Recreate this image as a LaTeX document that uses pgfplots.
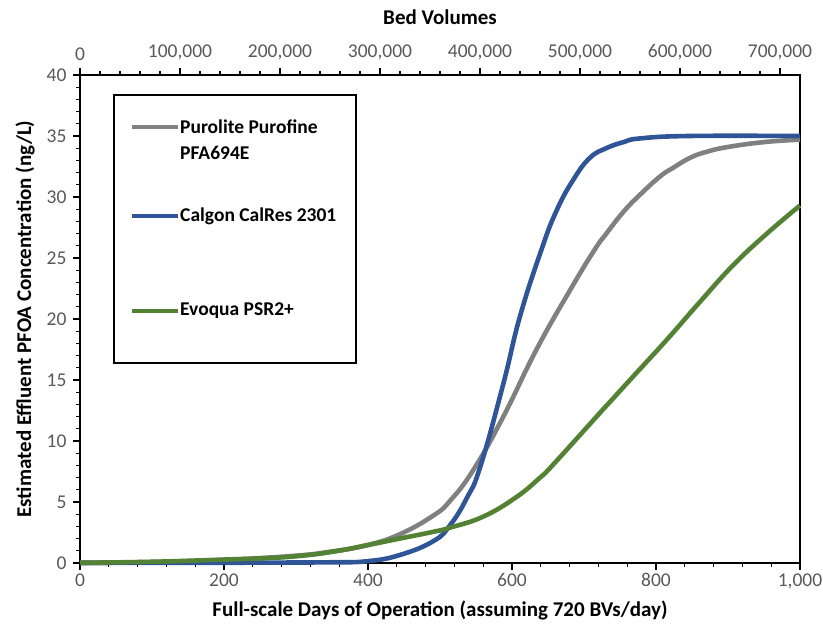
\documentclass[border=0pt]{standalone}
\usepackage{fontspec}
\setmainfont{Carlito}
\usepackage{pgfplots}
\pgfplotsset{compat=1.18}
\definecolor{cgray}{HTML}{808080}
\definecolor{cblue}{HTML}{2F5597}
\definecolor{cgreen}{HTML}{548235}
\definecolor{ctick}{HTML}{595959}
\begin{document}
\begin{tikzpicture}
\begin{axis}[
  scale only axis, width=720pt, height=488pt,
  xmin=0, xmax=1000, ymin=0, ymax=40,
  xtick={0,200,400,600,800,1000}, ytick={0,5,10,15,20,25,30,35,40},
  minor x tick num=4, minor y tick num=4,
  xtick pos=bottom, ytick pos=left,
  tick align=outside,
  major tick length=7pt, minor tick length=4pt,
  every tick/.style={black, line width=1.3pt},
  axis line style={line width=1.6pt},
  tick label style={font=\fontsize{19.5}{22}\selectfont, color=ctick},
  yticklabel style={xshift=-3pt},
  /pgf/number format/assume math mode=true,
  /pgf/number format/fixed,
  /pgf/number format/precision=0,
  /pgf/number format/1000 sep={,},
  scaled ticks=false,
  xlabel={Full-scale Days of Operation (assuming 720 BVs/day)},
  ylabel={Estimated Effluent PFOA Concentration (ng/L)},
  label style={font=\bfseries\fontsize{21}{24}\selectfont},
  xlabel style={at={(axis description cs:0.5,-0.0963)}, anchor=center},
  ylabel style={at={(axis description cs:-0.0764,0.5)}, anchor=center},
  clip=false,
]
% Purolite Purofine PFA694E
\addplot[cgray, line width=4.6pt, smooth, tension=0.75] coordinates {
(0,0.02) (100,0.08) (200,0.25) (300,0.6) (350,0.95) (398,1.45) (444,2.35)
(491,3.9) (514,5.1) (546,7.6) (588,12.0) (634,17.5) (681,22.4) (715,25.7)
(731,27.0) (755,28.8) (778,30.2) (806,31.7) (824,32.4) (847,33.2) (870,33.7)
(900,34.1) (950,34.5) (1000,34.7)};
% Calgon CalRes 2301
\addplot[cblue, line width=4.6pt, smooth, tension=0.75] coordinates {
(0,0.0) (200,0.02) (300,0.04) (350,0.06) (398,0.14) (444,0.65) (491,1.8)
(514,3.1) (537,5.3) (556,7.9) (588,14.7) (611,20.2) (641,25.7) (662,28.9)
(685,31.4) (708,33.2) (731,34.0) (755,34.5) (778,34.8) (847,35.0) (1000,35.0)};
% Evoqua PSR2+
\addplot[cgreen, line width=4.6pt, smooth, tension=0.75] coordinates {
(0,0.02) (100,0.1) (200,0.28) (250,0.38) (300,0.55) (352,0.93) (398,1.45)
(444,2.0) (491,2.56) (514,2.9) (560,3.8) (606,5.4) (639,7.0) (653,7.8)
(690,10.2) (722,12.3) (736,13.2) (770,15.4) (815,18.3) (861,21.4) (907,24.4)
(954,27.0) (1000,29.3)};
% legend
\draw[line width=1.3pt] (rel axis cs:0.0472,0.959) rectangle (rel axis cs:0.3833,0.4098);
\draw[cgray, line width=4.6pt] (rel axis cs:0.0722,0.8934) -- (rel axis cs:0.1361,0.8934);
\draw[cblue, line width=4.6pt] (rel axis cs:0.0722,0.7111) -- (rel axis cs:0.1361,0.7111);
\draw[cgreen, line width=4.6pt] (rel axis cs:0.0722,0.5164) -- (rel axis cs:0.1361,0.5164);
\node[anchor=west, inner sep=0pt, font=\bfseries\fontsize{19.5}{22}\selectfont] at (rel axis cs:0.1389,0.8934) {Purolite Purofine};
\node[anchor=west, inner sep=0pt, font=\bfseries\fontsize{19.5}{22}\selectfont] at (rel axis cs:0.1389,0.8402) {PFA694E};
\node[anchor=west, inner sep=0pt, font=\bfseries\fontsize{19.5}{22}\selectfont] at (rel axis cs:0.1389,0.7111) {Calgon CalRes 2301};
\node[anchor=west, inner sep=0pt, font=\bfseries\fontsize{19.5}{22}\selectfont] at (rel axis cs:0.1389,0.5164) {Evoqua PSR2+};
\coordinate (sw) at (rel axis cs:0,0);
\coordinate (ne) at (rel axis cs:1,1);
\end{axis}
\begin{axis}[
  scale only axis, width=720pt, height=488pt,
  xmin=0, xmax=720000, ymin=0, ymax=40,
  axis x line*=top, axis y line=none,
  xtick={0,100000,200000,300000,400000,500000,600000,700000},
  minor x tick num=4,
  tick align=outside,
  major tick length=7pt, minor tick length=4pt,
  every tick/.style={black, line width=1.3pt},
  axis line style={line width=1.6pt},
  tick label style={font=\fontsize{19.5}{22}\selectfont, color=ctick},
  xticklabel style={yshift=4pt},
  /pgf/number format/assume math mode=true,
  /pgf/number format/fixed,
  /pgf/number format/precision=0,
  /pgf/number format/1000 sep={,},
  scaled ticks=false,
  xlabel={Bed Volumes},
  label style={font=\bfseries\fontsize{21}{24}\selectfont},
  xlabel style={at={(axis description cs:0.5,1.119)}, anchor=center},
]
\addplot[draw=none] coordinates {(0,0) (720000,40)};
\end{axis}
\pgfresetboundingbox
\path ([shift={(-80pt,-66pt)}]sw) rectangle ([shift={(23pt,75pt)}]ne);
\end{tikzpicture}
\end{document}
